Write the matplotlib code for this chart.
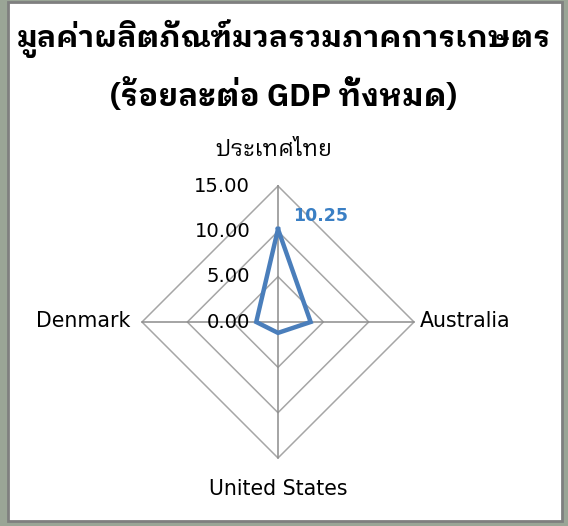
import numpy as np
import matplotlib
matplotlib.use("Agg")
import matplotlib.pyplot as plt
from matplotlib import font_manager
from matplotlib.ft2font import FT2Font
from matplotlib.patches import Rectangle

# ---- data ----
categories = ["ประเทศไทย", "Australia", "United States", "Denmark"]
values = [10.25, 3.6, 1.2, 2.4]
ring_levels = [0, 5, 10, 15]
tick_labels = ["0.00", "5.00", "10.00", "15.00"]
title_line1 = "มูลค่าผลิตภัณฑ์มวลรวมภาคการเกษตร"
title_line2 = "(ร้อยละต่อ GDP ทั้งหมด)"
value_label = "10.25"

# ---- find a font that covers Thai (deterministic preference) ----
def _wnum(w):
    if isinstance(w, int):
        return w
    return 700 if "bold" in str(w).lower() else 400

def find_thai_font():
    info = {}
    for f in font_manager.fontManager.ttflist:
        try:
            cmap = FT2Font(f.fname).get_charmap()
        except Exception:
            continue
        if ord("ม") in cmap and ord("ู") in cmap:
            normal = (str(f.stretch) in ("normal", "500")) and "ondensed" not in f.fname \
                and "Cond" not in f.fname and "Narrow" not in f.fname
            d = info.setdefault(f.name, {"bold_normal": False, "bold": False})
            if _wnum(f.weight) >= 600:
                d["bold"] = True
                if normal:
                    d["bold_normal"] = True
    def rank(nm):
        d = info[nm]
        b = 0 if d["bold_normal"] else (10 if d["bold"] else 20)
        if "Looped" in nm:
            return (b + 0, nm)
        if nm == "Noto Sans Thai":
            return (b + 1, nm)
        if "Serif" in nm:
            return (b + 5, nm)
        if "Thai" in nm and "UI" not in nm:
            return (b + 2, nm)
        return (b + 3, nm)
    names = sorted(info, key=rank)
    return names[0] if names else None

thai = find_thai_font()
fams = ([thai] if thai else []) + ["DejaVu Sans"]
plt.rcParams["font.family"] = ["DejaVu Sans"] + fams
plt.rcParams["font.stretch"] = "normal"

W, H = 568, 526
fig = plt.figure(figsize=(W / 100, H / 100), dpi=100)
fig.patch.set_facecolor("#9aa596")

# outer white chart box with gray border
box = Rectangle((8 / W, 1 - 521 / H), (562 - 8) / W, (521 - 2) / H,
                transform=fig.transFigure, facecolor="white",
                edgecolor="#7f7f7f", linewidth=2, zorder=-5)
fig.patches.append(box)

cx, cy, R = 278, 322, 136
ax = fig.add_axes([(cx - R) / W, (H - cy - R) / H, 2 * R / W, 2 * R / H],
                  projection="polar", zorder=2)
ax.set_theta_offset(np.pi / 2)
ax.set_theta_direction(-1)
ax.set_ylim(0, 15)
ax.patch.set_alpha(0)
ax.spines["polar"].set_visible(False)
ax.grid(False)
ax.set_xticks([])
ax.set_yticks([])

n = len(categories)
angles = np.arange(n) * 2 * np.pi / n
closed = np.append(angles, angles[0])

grid_col = "#a6a6a6"
for lv in ring_levels[1:]:
    ax.plot(closed, [lv] * (n + 1), color=grid_col, lw=1.1, zorder=1, clip_on=False)
for a in angles:
    ax.plot([a, a], [0, ring_levels[-1]], color="#8c8c8c", lw=1.1, zorder=1, clip_on=False)

vals = np.append(values, values[0])
ax.plot(closed, vals, color="#4a7ebb", lw=3.2, zorder=3, solid_joinstyle="miter", clip_on=False)

fitted = []  # (text, target width px)

# radial tick labels
for lv, lab in zip(ring_levels, tick_labels):
    t = ax.annotate(lab, xy=(0, lv), xytext=(-20, 0), textcoords="offset points",
                    ha="right", va="center", fontsize=13.5, color="black",
                    family=["DejaVu Sans"])
    if lab == "15.00":
        fitted.append((t, 56))

# category labels
tl = ax.annotate(categories[0], xy=(angles[0], 15), xytext=(-3, 26), textcoords="offset points",
                 ha="center", va="center", fontsize=15, color="black", family=fams,
                 fontstretch="normal")
fitted.append((tl, 117))
ax.annotate(categories[1], xy=(angles[1], 15), xytext=(4.5, 1), textcoords="offset points",
            ha="left", va="center", fontsize=14.8, color="black", family=["DejaVu Sans"])
ax.annotate(categories[2], xy=(angles[2], 15), xytext=(0, -22), textcoords="offset points",
            ha="center", va="center", fontsize=14.8, color="black", family=["DejaVu Sans"])
ax.annotate(categories[3], xy=(angles[3], 15), xytext=(-8.5, 1), textcoords="offset points",
            ha="right", va="center", fontsize=14.8, color="black", family=["DejaVu Sans"])

# data label
ax.annotate(value_label, xy=(angles[0], values[0]), xytext=(11, 9.5), textcoords="offset points",
            ha="left", va="center", fontsize=12.5, color="#3a7fc4", fontweight="bold",
            family=["DejaVu Sans"])

t1 = fig.text(0.5, 1 - 38 / H, title_line1, ha="center", va="center", fontsize=22,
              fontweight="bold", fontstretch="normal", family=fams)
t2 = fig.text(0.5, 1 - 95 / H, title_line2, ha="center", va="center", fontsize=22,
              fontweight="bold", fontstretch="normal", family=fams)
fitted += [(t1, 533), (t2, 346)]

# fit text widths to the reference spans
fig.canvas.draw()
r = fig.canvas.get_renderer()
for t, target in fitted:
    w = t.get_window_extent(r).width
    if w > 0:
        t.set_fontsize(t.get_fontsize() * target / w)
for lv_t in ax.texts:
    if lv_t.get_text() in tick_labels:
        lv_t.set_fontsize(fitted[0][0].get_fontsize())

fig.savefig("out.png", dpi=100, facecolor=fig.get_facecolor())
